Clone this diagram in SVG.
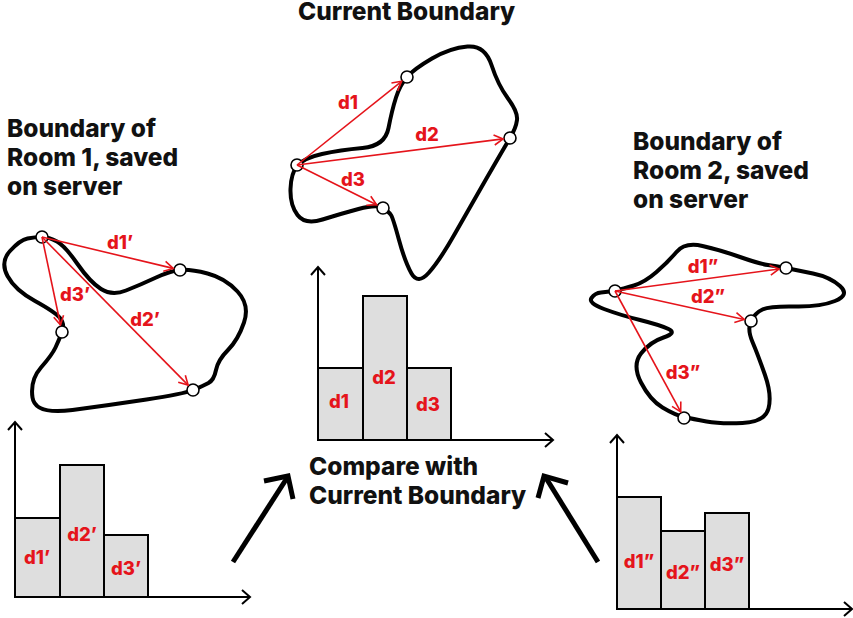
<svg xmlns="http://www.w3.org/2000/svg" width="853" height="618" viewBox="0 0 853 618">
<style>
.title{font-family:Inter,"Liberation Sans",sans-serif;font-weight:800;font-size:24.5px;fill:#111}
.lbl{font-family:Inter,"Liberation Sans",sans-serif;font-weight:800;font-size:18.5px;fill:#e5141b;text-anchor:middle}
.blob{fill:none;stroke:#000;stroke-width:4;stroke-linejoin:round}
.pt{fill:#fff;stroke:#000;stroke-width:1.6}
.dist{stroke:#e5141b;stroke-width:1.6;fill:none;marker-end:url(#rh)}
.axis{stroke:#000;stroke-width:2;fill:none}
.ahead{stroke:#000;stroke-width:2;fill:none}
.bar{fill:#dedede;stroke:#000;stroke-width:2}
.big{stroke:#000;stroke-width:5;fill:none}
</style>
<defs>
<marker id="rh" markerUnits="userSpaceOnUse" markerWidth="12" markerHeight="12" refX="10" refY="5" orient="auto" overflow="visible">
<path d="M1,0 L10,5 L1,10" fill="none" stroke="#e5141b" stroke-width="1.6"/>
</marker>
</defs>

<text class="title" x="298" y="20">Current Boundary</text>
<text class="title" x="7" y="137">Boundary of</text>
<text class="title" x="7" y="166">Room 1, saved</text>
<text class="title" x="7" y="195">on server</text>
<text class="title" x="633" y="150">Boundary of</text>
<text class="title" x="633" y="179">Room 2, saved</text>
<text class="title" x="633" y="208">on server</text>
<text class="title" x="309" y="475">Compare with</text>
<text class="title" x="309" y="504">Current Boundary</text>

<g id="current-boundary">
<path class="blob" d="M290.5,189 Q291,173 297.5,165.5 Q304,158 322,154 Q340,150 362.5,148 Q385,146 388.5,128 Q392,110 396,97.5 Q400,85 407,77 Q414,69 432,58.5 Q450,48 467.5,46.5 Q485,45 491.5,65 Q498,85 508,98.5 Q518,112 517,120 Q516,128 510,138 Q504,148 487,177.5 Q470,207 455,233.5 Q440,260 429,272.5 Q418,285 411.5,273.5 Q405,262 399,240 Q393,218 391,215 Q389,212 383,208 Q377,204 358.5,209 Q340,214 322.5,219.5 Q305,225 297.5,215 Q290,205 290.5,189 Z"/>
<circle class="pt" cx="297" cy="165" r="6"/>
<circle class="pt" cx="407" cy="77" r="6"/>
<circle class="pt" cx="510" cy="138" r="6"/>
<circle class="pt" cx="383" cy="208" r="6"/>
<line class="dist" x1="297" y1="165" x2="401.6" y2="81.3"/>
<line class="dist" x1="297" y1="165" x2="503.1" y2="138.9"/>
<line class="dist" x1="297" y1="165" x2="376.6" y2="204.8"/>
<text class="lbl" x="348" y="109">d1</text>
<text class="lbl" x="427" y="141">d2</text>
<text class="lbl" x="353" y="186">d3</text>
</g>

<g id="room1-boundary">
<path class="blob" d="M27.5,238.5 Q35,237 42,237 Q49,237 57,241.5 Q65,246 77.5,264 Q90,282 101,289 Q112,296 126,290.5 Q140,285 155,278 Q170,271 180,270 Q190,269 207.5,273.5 Q225,278 237.5,291.5 Q250,305 244,322.5 Q238,340 228,350 Q218,360 216,370 Q214,380 208.5,383 Q203,386 193,390 Q183,394 146.5,399.5 Q110,405 72.5,410 Q35,415 32.5,397.5 Q30,380 41,367.5 Q52,355 55.5,347.5 Q59,340 62,332 Q65,324 60,318 Q55,312 35,301 Q15,290 7.5,276 Q0,262 10,251 Q20,240 27.5,238.5 Z"/>
<circle class="pt" cx="42" cy="237" r="6"/>
<circle class="pt" cx="180" cy="270" r="6"/>
<circle class="pt" cx="62" cy="332" r="6"/>
<circle class="pt" cx="193" cy="390" r="6"/>
<line class="dist" x1="42" y1="237" x2="173.2" y2="268.4"/>
<line class="dist" x1="42" y1="237" x2="188.1" y2="385.1"/>
<line class="dist" x1="42" y1="237" x2="60.5" y2="325"/>
<text class="lbl" x="120" y="249">d1’</text>
<text class="lbl" x="75" y="301">d3’</text>
<text class="lbl" x="145" y="326">d2’</text>
</g>

<g id="room2-boundary">
<path class="blob" d="M601,292.5 Q607,292 615,290.5 Q623,289 634,285.5 Q645,282 656.5,272 Q668,262 676.5,252 Q685,242 702.5,246 Q720,250 740,257 Q760,264 768,265 Q776,266 786,268 Q796,270 813,273.5 Q830,277 840,286 Q850,295 835,301 Q820,307 795,306.5 Q770,306 762.5,309.5 Q755,313 751,321 Q747,329 752.5,342 Q758,355 765,375 Q772,395 768.5,408.5 Q765,422 742.5,423 Q720,424 706.5,421.5 Q693,419 684,417 Q675,415 662.5,407.5 Q650,400 641,382.5 Q632,365 641,353.5 Q650,342 663.5,337.5 Q677,333 668.5,329 Q660,325 640,320 Q620,315 604,309 Q588,303 591.5,298 Q595,293 601,292.5 Z"/>
<circle class="pt" cx="615" cy="291" r="6"/>
<circle class="pt" cx="786" cy="268" r="6"/>
<circle class="pt" cx="751" cy="321" r="6"/>
<circle class="pt" cx="684" cy="418" r="6"/>
<line class="dist" x1="615" y1="291" x2="779.1" y2="269"/>
<line class="dist" x1="615" y1="291" x2="744.2" y2="319.5"/>
<line class="dist" x1="615" y1="291" x2="680.7" y2="411.9"/>
<text class="lbl" x="703" y="273">d1”</text>
<text class="lbl" x="708" y="303">d2”</text>
<text class="lbl" x="683" y="379">d3”</text>
</g>

<g id="hist-room1">
<rect class="bar" x="15" y="518" width="45" height="79"/>
<rect class="bar" x="60" y="465" width="44" height="132"/>
<rect class="bar" x="104" y="535" width="44" height="62"/>
<path class="axis" d="M15,597 V423 M15,597 H249"/>
<path class="ahead" d="M8,430 L15,422 L22,430 M242,590 L250,597 L242,604"/>
<text class="lbl" x="37" y="564">d1’</text>
<text class="lbl" x="82" y="541">d2’</text>
<text class="lbl" x="126" y="575">d3’</text>
</g>

<g id="hist-current">
<rect class="bar" x="318" y="368" width="45" height="72"/>
<rect class="bar" x="363" y="296" width="44" height="144"/>
<rect class="bar" x="407" y="368" width="44" height="72"/>
<path class="axis" d="M318,440 V268 M318,440 H552"/>
<path class="ahead" d="M311,275 L318,267 L325,275 M545,433 L553,440 L545,447"/>
<text class="lbl" x="339" y="408">d1</text>
<text class="lbl" x="384" y="384">d2</text>
<text class="lbl" x="428" y="411">d3</text>
</g>

<g id="hist-room2">
<rect class="bar" x="617" y="497" width="44" height="112"/>
<rect class="bar" x="661" y="531" width="44" height="78"/>
<rect class="bar" x="705" y="513" width="44" height="96"/>
<path class="axis" d="M617,609 V436 M617,609 H851"/>
<path class="ahead" d="M610,443 L617,435 L624,443 M844,602 L852,609 L844,616"/>
<text class="lbl" x="639" y="568">d1”</text>
<text class="lbl" x="683" y="579">d2”</text>
<text class="lbl" x="727" y="571">d3”</text>
</g>

<g id="connectors">
<path class="big" d="M233,562 L287,478"/>
<path class="big" d="M264,481 L288,476 L293,499"/>
<path class="big" d="M598,562 L546,478"/>
<path class="big" d="M538,498 L544,476 L568,483"/>
</g>
</svg>
